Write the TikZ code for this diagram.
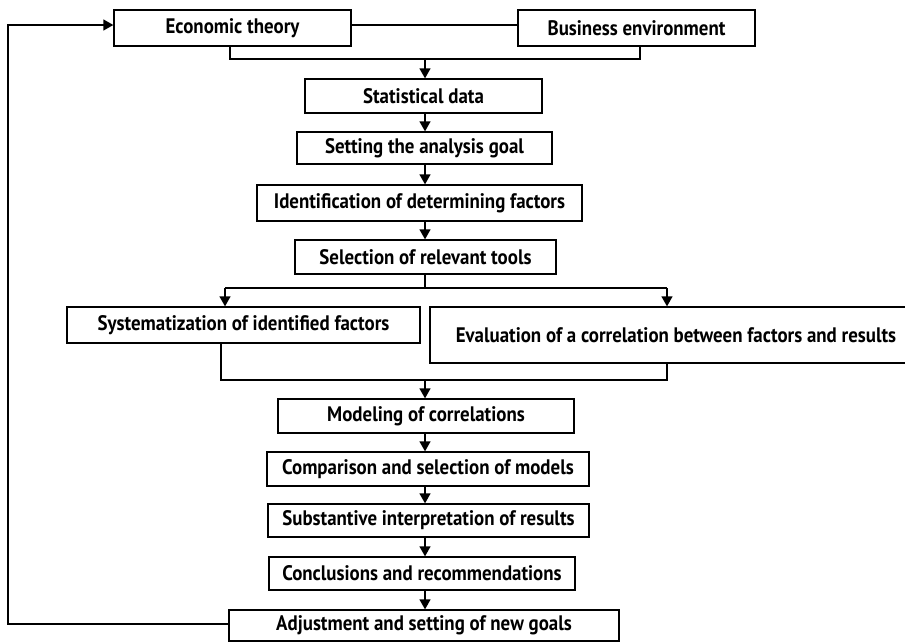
\documentclass[tikz,border=0pt]{standalone}
\usepackage{fontspec}
\setmainfont{PT Sans}[FakeStretch=0.9]
\usetikzlibrary{arrows.meta,positioning,calc}

\begin{document}
\begin{tikzpicture}[x=1pt,y=-1pt,
    box/.style={draw, line width=1.3pt, inner sep=0pt, minimum height=34pt, font=\fontsize{21}{24}\selectfont\bfseries},
    arr/.style={-{Triangle[length=10pt,width=11pt]}},
    every path/.style={line width=1.3pt}]
    \useasboundingbox (0,0) rectangle (905,643);

    % top row
    \node[box, minimum width=237pt, minimum height=36pt] (econ) at (232.5,28) {Economic theory};
    \node[box, minimum width=237pt, minimum height=36pt] (busi) at (636.5,28) {Business environment};

    % main chain
    \node[box, minimum width=237pt] (stat) at (423.5,96) {Statistical data};
    \node[box, minimum width=255pt, minimum height=32pt] (goal) at (424.5,148) {Setting the analysis goal};
    \node[box, minimum width=325pt, minimum height=36pt] (ident) at (419.5,203) {Identification of determining factors};
    \node[box, minimum width=261pt] (tools) at (425.5,257) {Selection of relevant tools};
    \node[box, minimum width=353pt, minimum height=36pt] (syst) at (243.5,325) {Systematization of identified factors};
    \node[box, minimum width=492pt, minimum height=56pt] (eval) at (676,335) {Evaluation of a correlation between factors and results};
    \node[box, minimum width=296pt] (model) at (426,416) {Modeling of correlations};
    \node[box, minimum width=322pt] (comp) at (428,469) {Comparison and selection of models};
    \node[box, minimum width=321pt, minimum height=33pt] (interp) at (428.5,520.5) {Substantive interpretation of results};
    \node[box, minimum width=306pt, minimum height=33pt] (concl) at (422,573.5) {Conclusions and recommendations};
    \node[box, minimum width=390pt, minimum height=31pt] (adjust) at (424,625.5) {Adjustment and setting of new goals};

    \coordinate (spine) at (425,0);
    \coordinate (join) at (425,59);
    \coordinate (split) at (425,288);
    \coordinate (splitL) at (225,288);
    \coordinate (splitR) at (667,288);
    \coordinate (mergeL) at (221,380);
    \coordinate (mergeR) at (667,380);
    \coordinate (merge) at (425,380);
    \coordinate (back) at (8,0);

    % inputs
    \draw ([yshift=3pt]econ.east) -- ([yshift=3pt]busi.west);
    \draw (econ.south -| 230,0) |- (join) -| (busi.south -| 640,0);
    \draw[arr] (join) -- (join |- stat.north);

    % chain
    \draw[arr] (stat.south -| spine) -- (goal.north -| spine);
    \draw[arr] (goal.south -| spine) -- (ident.north -| spine);
    \draw[arr] (ident.south -| spine) -- (tools.north -| spine);

    % branches
    \draw (tools.south -| spine) -- (split);
    \draw (splitL) -- (splitR);
    \draw[arr] (splitL) -- (splitL |- syst.north);
    \draw[arr] (splitR) -- (splitR |- eval.north);
    \draw (mergeL |- syst.south) -- (mergeL) -- (mergeR) -- (mergeR |- eval.south);
    \draw[arr] (merge) -- (merge |- model.north);

    \draw[arr] (model.south -| spine) -- (comp.north -| spine);
    \draw[arr] (comp.south -| spine) -- (interp.north -| spine);
    \draw[arr] (interp.south -| spine) -- (concl.north -| spine);
    \draw[arr] (concl.south -| spine) -- (adjust.north -| spine);

    % feedback
    \draw[arr] ([yshift=1.5pt]adjust.west) -- ([yshift=1.5pt]adjust.west -| back) -- ([yshift=3pt]econ.west -| back) -- ([yshift=3pt]econ.west);
\end{tikzpicture}
\end{document}
